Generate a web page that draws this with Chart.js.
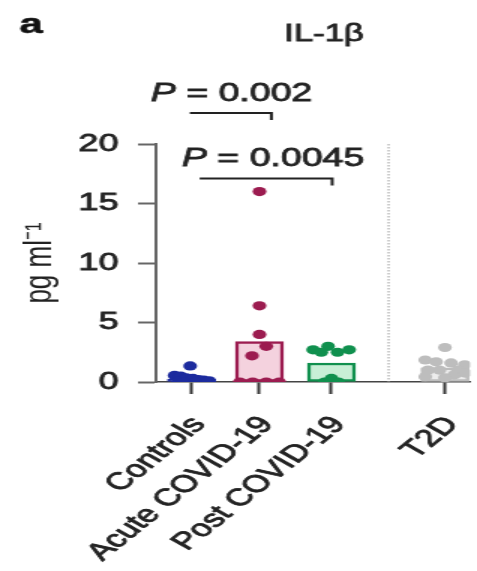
<!DOCTYPE html>
<html>
<head>
<meta charset="utf-8">
<script src="https://cdn.jsdelivr.net/npm/chart.js@4"></script>
<style>
  html, body { margin: 0; padding: 0; background: #fff; overflow: hidden; }
  /* la figure d'origine est etiree horizontalement : on dessine etroit puis on etire */
  #cadre { width: 318px; height: 571px; transform: scaleX(1.5); transform-origin: 0 0; }
</style>
</head>
<body>
<div id="cadre"><canvas id="graph"></canvas></div>
<script>
// ---------- Donnees ----------
const groupes = ["Controls", "Acute COVID-19", "Post COVID-19", "T2D"];
const positions = [1, 2, 3.06, 4.73];
const moyennes = [0.25, 3.4, 1.6, 1.2];
const couleurs = ["#1c2b9e", "#9c1c50", "#10904e", "#bdbdbd"];
const remplissages = ["#c7cdf0", "#f4d2de", "#c8efd6", "#ececec"];

const valControls = [1.35, 0.55, 0.5, 0.35, 0.3, 0.2, 0.15, 0.1, 0.05, 0, 0, 0];
const decalControls = [-0.02, -0.25, -0.16, -0.08, 0.02, 0.1, 0.18, 0.26, -0.2, -0.12, 0.06, 0.22];

const valAcute = [16, 6.4, 4.0, 3.0, 2.2, 0, 0, 0, 0];
const decalAcute = [0, 0, 0, 0.1, -0.11, -0.29, -0.1, 0.1, 0.29];

const valPost = [3.0, 2.7, 2.7, 2.5, 2.5, 0.3, 0, 0, 0];
const decalPost = [-0.05, -0.27, 0.26, -0.15, 0.09, 0, -0.1, 0, 0.1];

const valT2D = [2.9, 1.85, 1.7, 1.6, 1.45, 1.0, 1.0, 1.0, 0.45, 0.6, 0.75, 0.35];
const decalT2D = [0, -0.29, -0.13, 0.09, 0.29, -0.25, -0.08, 0.19, -0.29, 0.14, 0.3, 0];

const separation = 3.9;
const crochets = [[0.975, 2.175, 22.6], [1.12, 3.07, 17.1]];
const pValeurs = ["0.002", "0.0045"];
const pPositions = [[1.59, 24.2], [2.2, 18.7]];

const police = "'Liberation Sans', Arial, Helvetica, sans-serif";

// ---------- Construction des jeux de donnees ----------
function nuage(valeurs, decalages, centre, couleur) {
  return {
    type: "scatter",
    data: valeurs.map((v, i) => ({ x: centre + decalages[i], y: v })),
    backgroundColor: couleur,
    borderWidth: 0,
    pointRadius: 4.6,
    order: 1,
  };
}

const barres = {
  type: "bar",
  data: positions.map((p, i) => ({ x: p, y: moyennes[i] })),
  backgroundColor: remplissages,
  borderColor: couleurs,
  borderWidth: 2.5,
  borderSkipped: false,
  barThickness: 32,
  order: 2,
};

// texte un peu plus gras, comme l'impression d'origine
function ecrire(ctx, texte, x, y, epaisseur) {
  ctx.lineWidth = epaisseur;
  ctx.strokeText(texte, x, y);
  ctx.fillText(texte, x, y);
}

// ---------- Annotations (lettre, titre, P, separateur) ----------
const annotations = {
  id: "annotations",
  beforeDatasetsDraw(chart) {
    const { ctx, scales: { x, y } } = chart;
    ctx.save();
    ctx.strokeStyle = "#9a9a9a";
    ctx.lineWidth = 1;
    ctx.setLineDash([1.5, 1.5]);
    const px = x.getPixelForValue(separation);
    ctx.beginPath();
    ctx.moveTo(px, y.getPixelForValue(20));
    ctx.lineTo(px, y.getPixelForValue(0));
    ctx.stroke();
    ctx.restore();
  },
  afterDraw(chart) {
    const { ctx, scales: { x, y } } = chart;
    ctx.save();
    ctx.fillStyle = "#111";
    ctx.strokeStyle = "#111";
    ctx.textBaseline = "alphabetic";
    ctx.font = "bold 28px " + police;
    ecrire(ctx, "a", 13, 33, 0.6);
    ctx.fillStyle = "#222";
    ctx.strokeStyle = "#222";
    ctx.font = "23px " + police;
    ctx.textAlign = "center";
    ecrire(ctx, "IL-1β", 216, 41, 0.8);

    // crochets de comparaison
    ctx.lineWidth = 2;
    crochets.forEach(([a, b, h]) => {
      ctx.beginPath();
      ctx.moveTo(x.getPixelForValue(a), y.getPixelForValue(h));
      ctx.lineTo(x.getPixelForValue(b), y.getPixelForValue(h));
      ctx.lineTo(x.getPixelForValue(b), y.getPixelForValue(h) + 7);
      ctx.stroke();
    });

    // textes P = ...
    ctx.textAlign = "left";
    ctx.textBaseline = "middle";
    pValeurs.forEach((val, i) => {
      const [cx, cy] = pPositions[i];
      ctx.font = "italic 25px " + police;
      const wP = ctx.measureText("P").width;
      ctx.font = "25px " + police;
      const reste = " = " + val;
      const wR = ctx.measureText(reste).width;
      const gx = x.getPixelForValue(cx) - (wP + wR) / 2;
      const gy = y.getPixelForValue(cy);
      ctx.font = "italic 25px " + police;
      ecrire(ctx, "P", gx, gy, 0.8);
      ctx.font = "25px " + police;
      ecrire(ctx, reste, gx + wP, gy, 0.8);
    });
    ctx.restore();
  },
};

new Chart(document.getElementById("graph"), {
  data: {
    datasets: [
      barres,
      nuage(valControls, decalControls, positions[0], couleurs[0]),
      nuage(valAcute, decalAcute, positions[1], couleurs[1]),
      nuage(valPost, decalPost, positions[2], couleurs[2]),
      nuage(valT2D, decalT2D, positions[3], couleurs[3]),
    ],
  },
  options: {
    responsive: true,
    maintainAspectRatio: false,
    animation: false,
    layout: { padding: { top: 144, right: 0, left: 0, bottom: 0 } },
    plugins: { legend: { display: false }, tooltip: { enabled: false } },
    scales: {
      x: {
        type: "linear",
        min: 0.477,
        max: 5.1,
        offset: false,
        afterBuildTicks: (axe) => { axe.ticks = positions.map(v => ({ value: v })); },
        afterFit: (axe) => {
          axe.height = 189;
          // l'axe va jusqu'au bord droit, sans marge pour les etiquettes
          axe.paddingLeft = 0;
          axe.paddingRight = 0;
        },
        border: { color: "#444", width: 1.5, dash: [5, 2] },
        grid: { offset: false, drawOnChartArea: false, tickLength: 12, tickColor: "#333", tickWidth: 2 },
        ticks: {
          autoSkip: false,
          maxRotation: 50,
          minRotation: 50,
          padding: 17,
          labelOffset: 5,
          color: "#222",
          textStrokeColor: "#222",
          textStrokeWidth: 0.8,
          font: { family: police, size: 24 },
          callback: (v) => groupes[positions.indexOf(v)],
        },
      },
      y: {
        min: 0,
        max: 20,
        afterFit: (axe) => { axe.width = 104; },
        border: { color: "#666", width: 2 },
        grid: { drawOnChartArea: false, tickLength: 12, tickColor: "#666", tickWidth: 2 },
        ticks: {
          stepSize: 5,
          padding: 13,
          color: "#222",
          textStrokeColor: "#222",
          textStrokeWidth: 0.8,
          font: { family: police, size: 24 },
        },
        title: {
          display: true,
          text: "pg ml⁻¹",
          color: "#222",
          font: { family: police, size: 26 },
          padding: { top: 11, bottom: 0 },
        },
      },
    },
  },
  plugins: [annotations],
});
</script>
</body>
</html>
